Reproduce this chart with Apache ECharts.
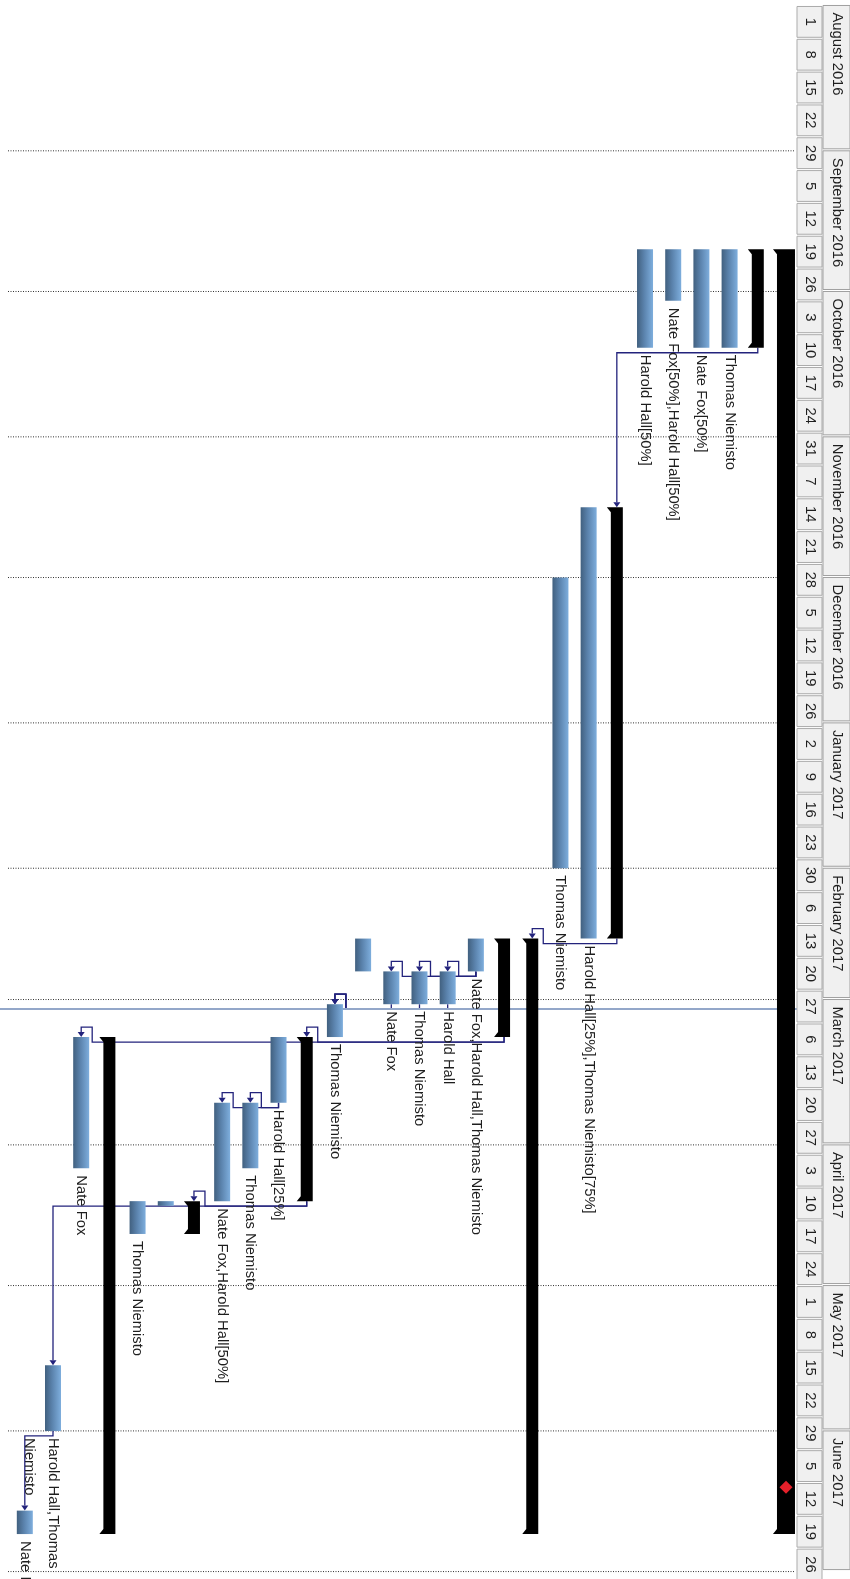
<!DOCTYPE html>
<html>
<head>
<meta charset="utf-8">
<title>Project Gantt</title>
<script src="https://cdn.jsdelivr.net/npm/echarts@6/dist/echarts.min.js"></script>
<style>
    html, body { margin: 0; padding: 0; background: #fff; }
    #chart { width: 850px; height: 1579px; }
</style>
</head>
<body>
<div id="chart"></div>
<script>
// timescale header
var monthStarts = ['2016-08-01', '2016-09-01', '2016-10-01', '2016-11-01', '2016-12-01', '2017-01-01',
    '2017-02-01', '2017-03-01', '2017-04-01', '2017-05-01', '2017-06-01', '2017-07-01'];
var monthLabels = ['August 2016', 'September 2016', 'October 2016', 'November 2016', 'December 2016',
    'January 2017', 'February 2017', 'March 2017', 'April 2017', 'May 2017', 'June 2017'];
var weekStarts = ['2016-08-01', '2016-08-08', '2016-08-15', '2016-08-22', '2016-08-29', '2016-09-05',
    '2016-09-12', '2016-09-19', '2016-09-26', '2016-10-03', '2016-10-10', '2016-10-17', '2016-10-24',
    '2016-10-31', '2016-11-07', '2016-11-14', '2016-11-21', '2016-11-28', '2016-12-05', '2016-12-12',
    '2016-12-19', '2016-12-26', '2017-01-02', '2017-01-09', '2017-01-16', '2017-01-23', '2017-01-30',
    '2017-02-06', '2017-02-13', '2017-02-20', '2017-02-27', '2017-03-06', '2017-03-13', '2017-03-20',
    '2017-03-27', '2017-04-03', '2017-04-10', '2017-04-17', '2017-04-24', '2017-05-01', '2017-05-08',
    '2017-05-15', '2017-05-22', '2017-05-29', '2017-06-05', '2017-06-12', '2017-06-19', '2017-06-26'];

// summary bars (black): lane, start, finish
var summaryBars = [
    [0, '2016-09-22', '2017-06-23'],
    [1, '2016-09-22', '2016-10-13'],
    [6, '2016-11-16', '2017-02-16'],
    [9, '2017-02-16', '2017-06-23'],
    [10, '2017-02-16', '2017-03-09'],
    [17, '2017-03-09', '2017-04-13'],
    [21, '2017-04-13', '2017-04-20'],
    [24, '2017-03-09', '2017-06-23']
];

// task bars: lane, start, finish
var taskBars = [
    [2, '2016-09-22', '2016-10-13'],
    [3, '2016-09-22', '2016-10-13'],
    [4, '2016-09-22', '2016-10-03'],
    [5, '2016-09-22', '2016-10-13'],
    [7, '2016-11-16', '2017-02-16'],
    [8, '2016-12-01', '2017-02-01'],
    [11, '2017-02-16', '2017-02-23'],
    [12, '2017-02-23', '2017-03-02'],
    [13, '2017-02-23', '2017-03-02'],
    [14, '2017-02-23', '2017-03-02'],
    [15, '2017-02-16', '2017-02-23'],
    [16, '2017-03-02', '2017-03-09'],
    [18, '2017-03-09', '2017-03-23'],
    [19, '2017-03-23', '2017-04-06'],
    [20, '2017-03-23', '2017-04-13'],
    [22, '2017-04-13', '2017-04-14'],
    [23, '2017-04-13', '2017-04-20'],
    [25, '2017-03-09', '2017-04-06'],
    [26, '2017-05-18', '2017-06-01'],
    [27, '2017-06-18', '2017-06-23']
];
// resource names written under each task bar
var taskLabels = ['Thomas Niemisto', 'Nate Fox[50%]', 'Nate Fox[50%],Harold Hall[50%]', 'Harold Hall[50%]',
    'Harold Hall[25%],Thomas Niemisto[75%]', 'Thomas Niemisto', 'Nate Fox,Harold Hall,Thomas Niemisto',
    'Harold Hall', 'Thomas Niemisto', 'Nate Fox', '', 'Thomas Niemisto', 'Harold Hall[25%]',
    'Thomas Niemisto', 'Nate Fox,Harold Hall[50%]', '', 'Thomas Niemisto', 'Nate Fox',
    'Harold Hall,Thomas\nNiemisto', 'Nate Fox'];

var milestones = [[0, '2017-06-13']];

// dependencies: from lane -> to lane (finish to start)
var links = [[1, 6], [6, 9], [11, 12], [11, 13], [11, 14], [12, 16], [13, 16], [14, 16],
    [10, 17], [10, 25], [18, 19], [18, 20], [17, 21], [17, 26], [26, 27]];

var todayDate = '2017-03-03';
var viewStart = '2016-07-30T20';
var viewEnd = '2017-07-02T14';

var H = 1579;
var FONT = '14.8px "Liberation Sans", Arial, sans-serif';
var LINK = '#23237c';

function t(s) {
    var p = s.split('T'), d = p[0].split('-');
    return new Date(+d[0], d[1] - 1, +d[2], p[1] ? +p[1] : 0).getTime();
}

var laneSpan = {};
summaryBars.concat(taskBars).forEach(function (b) {
    laneSpan[b[0]] = [t(b[1]), t(b[2])];
});

var barFill = new echarts.graphic.LinearGradient(0, 0, 1, 0, [
    {offset: 0, color: '#41607f'},
    {offset: 0.45, color: '#5b83ad'},
    {offset: 1, color: '#7eaedd'}
]);

function vText(x, y, text, align, vAlign) {
    return {
        type: 'text', x: x, y: y, rotation: -Math.PI / 2,
        style: {text: text, font: FONT, fill: '#1e1e1e', align: align, verticalAlign: vAlign, lineHeight: 24}
    };
}

function renderGridLine(params, api) {
    var y = api.coord([0, t(monthStarts[params.dataIndex + 1])])[1];
    var cs = params.coordSys;
    return {
        type: 'line', shape: {x1: cs.x + 8, y1: y, x2: cs.x + cs.width, y2: y},
        style: {stroke: '#333', lineWidth: 1, lineDash: [1, 1.5]}
    };
}

function renderToday(params, api) {
    var y = api.coord([0, t(todayDate)])[1];
    var cs = params.coordSys;
    return {
        type: 'line', shape: {x1: cs.x, y1: y, x2: cs.x + cs.width + 5, y2: y},
        style: {stroke: '#93a7c9', lineWidth: 2}
    };
}

function renderLink(params, api) {
    var l = links[params.dataIndex];
    var p0 = api.coord([l[0], laneSpan[l[0]][1]]);
    var p1 = api.coord([l[1], laneSpan[l[1]][0]]);
    var x0 = p0[0], y0 = p0[1], x1 = p1[0], y1 = p1[1];
    var yd = y0 + 5, pts;
    if (y1 > yd + 8) {
        pts = [[x0, y0], [x0, yd], [x1, yd], [x1, y1 - 5]];
    } else {
        // successor starts at the same time: loop back above it
        pts = [[x0, y0], [x0, yd], [x1 + 11, yd], [x1 + 11, y1 - 10], [x1, y1 - 10], [x1, y1 - 5]];
    }
    return {
        type: 'group', children: [
            {type: 'polyline', shape: {points: pts}, style: {stroke: LINK, lineWidth: 1.3, fill: null}},
            {type: 'polygon', shape: {points: [[x1 - 3.5, y1 - 5], [x1 + 3.5, y1 - 5], [x1, y1]]}, style: {fill: LINK}}
        ]
    };
}

function renderSummary(params, api) {
    var b = summaryBars[params.dataIndex];
    var a = api.coord([b[0], t(b[1])]), e = api.coord([b[0], t(b[2])]);
    var w = b[0] === 0 ? 18 : 12;
    var x0 = a[0] - w / 2, x1 = a[0] + w / 2;
    return {
        type: 'polygon',
        shape: {points: [[x1, a[1]], [x1, e[1]], [x0 - 4, e[1]], [x0, e[1] - 5], [x0, a[1] + 5], [x0 - 4, a[1]]]},
        style: {fill: '#000'}
    };
}

function renderTask(params, api) {
    var b = taskBars[params.dataIndex];
    var a = api.coord([b[0], t(b[1])]), e = api.coord([b[0], t(b[2])]);
    var w = 16;
    var children = [{
        type: 'rect',
        shape: {x: a[0] - w / 2, y: a[1], width: w, height: Math.max(e[1] - a[1], 3)},
        style: {fill: barFill}
    }];
    var label = taskLabels[params.dataIndex];
    if (label) {
        children.push(vText(a[0] + 12, e[1] + 7, label, 'left', 'top'));
    }
    return {type: 'group', children: children};
}

function renderMilestone(params, api) {
    var m = milestones[params.dataIndex];
    var p = api.coord([m[0], t(m[1])]);
    var r = 6.5;
    return {
        type: 'polygon',
        shape: {points: [[p[0], p[1] - r], [p[0] + r, p[1]], [p[0], p[1] + r], [p[0] - r, p[1]]]},
        style: {fill: '#e5202a'}
    };
}

function renderWeek(params, api) {
    var s = t(weekStarts[params.dataIndex]);
    var a = api.coord([2, s]), b = api.coord([27, s + 7 * 864e5]);
    return {
        type: 'group', children: [
            {
                type: 'rect',
                shape: {x: a[0], y: a[1] + 1, width: b[0] - a[0], height: b[1] - a[1] - 2},
                style: {fill: '#f0f0f0', stroke: '#ababab', lineWidth: 1}
            },
            vText((a[0] + b[0]) / 2 + 1, (a[1] + b[1]) / 2, String(new Date(s).getDate()), 'center', 'middle')
        ]
    };
}

function renderMonth(params, api) {
    var i = params.dataIndex;
    var a = api.coord([28, t(monthStarts[i])]), b = api.coord([55, t(monthStarts[i + 1])]);
    return {
        type: 'group', children: [
            {
                type: 'rect',
                shape: {x: a[0], y: a[1], width: b[0] - a[0], height: b[1] - a[1] - 2},
                style: {fill: '#f0f0f0', stroke: '#a0a0a0', lineWidth: 1}
            },
            vText((a[0] + b[0]) / 2 + 1, a[1] + 7, monthLabels[i], 'left', 'middle')
        ]
    };
}

var myChart = echarts.init(document.getElementById('chart'));

var option = {
    animation: false,
    grid: [
        {left: 0, top: 0, width: 795, height: H},
        {left: 795, top: 0, width: 55, height: H}
    ],
    xAxis: [
        {type: 'value', gridIndex: 0, inverse: true, min: -0.32, max: 27.88, show: false},
        {type: 'value', gridIndex: 1, min: 0, max: 55, show: false}
    ],
    yAxis: [
        {type: 'time', gridIndex: 0, inverse: true, min: t(viewStart), max: t(viewEnd), show: false},
        {type: 'time', gridIndex: 1, inverse: true, min: t(viewStart), max: t(viewEnd), show: false}
    ],
    series: [{
        type: 'custom', renderItem: renderGridLine, silent: true,
        data: monthStarts.slice(1).map(function (m) { return [0, t(m)]; })
    }, {
        type: 'custom', renderItem: renderLink, silent: true,
        data: links.map(function (l) { return [l[0], laneSpan[l[0]][1]]; })
    }, {
        type: 'custom', renderItem: renderToday, silent: true,
        data: [[0, t(todayDate)]]
    }, {
        type: 'custom', renderItem: renderSummary, silent: true,
        data: summaryBars.map(function (b) { return [b[0], t(b[1]), t(b[2])]; })
    }, {
        type: 'custom', renderItem: renderTask, silent: true,
        data: taskBars.map(function (b) { return [b[0], t(b[1]), t(b[2])]; })
    }, {
        type: 'custom', renderItem: renderMilestone, silent: true,
        data: milestones.map(function (m) { return [m[0], t(m[1])]; })
    }, {
        type: 'custom', renderItem: renderWeek, silent: true, xAxisIndex: 1, yAxisIndex: 1,
        data: weekStarts.map(function (w) { return [0, t(w)]; })
    }, {
        type: 'custom', renderItem: renderMonth, silent: true, xAxisIndex: 1, yAxisIndex: 1,
        data: monthLabels.map(function (m, i) { return [28, t(monthStarts[i])]; })
    }]
};

myChart.setOption(option);
</script>
</body>
</html>
